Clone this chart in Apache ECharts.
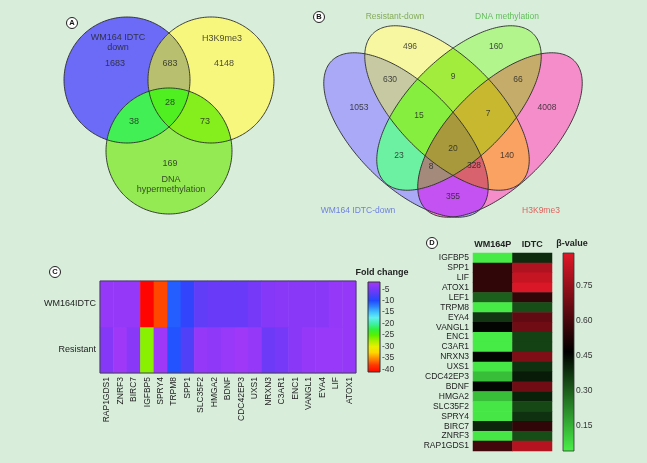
<!DOCTYPE html>
<html><head><meta charset="utf-8">
<script src="https://cdn.jsdelivr.net/npm/echarts@6/dist/echarts.min.js"></script>
<style>html,body{margin:0;padding:0;background:#d8eedb}#c{width:647px;height:463px}</style>
</head><body><div id="c"></div>
<script>
// ---------------- DATA ----------------
// Panel A: 3-set Venn (A = WM164 IDTC down, B = H3K9me3, C = DNA hypermethylation)
const vennASetNames = ['WM164 IDTC\ndown', 'H3K9me3', 'DNA\nhypermethylation'];
const vennARegionKeys = ['A', 'B', 'C', 'AB', 'AC', 'BC', 'ABC'];
const vennACounts = [1683, 4148, 169, 683, 38, 73, 28];

// Panel B: 4-set Venn (A = WM164 IDTC-down, B = Resistant-down, C = DNA methylation, D = H3K9me3)
const vennBSetNames = ['WM164 IDTC-down', 'Resistant-down', 'DNA methylation', 'H3K9me3'];
const vennBRegionKeys = ['A', 'B', 'C', 'D', 'AB', 'AC', 'AD', 'BC', 'BD', 'CD', 'ABC', 'ABD', 'ACD', 'BCD', 'ABCD'];
const vennBCounts = [1053, 496, 160, 4008, 630, 23, 355, 9, 140, 66, 15, 328, 8, 7, 20];

// Panel C: fold change heatmap
const genesC = ['RAP1GDS1', 'ZNRF3', 'BIRC7', 'IGFBP5', 'SPRY4', 'TRPM8', 'SPP1', 'SLC35F2', 'HMGA2', 'BDNF',
  'CDC42EP3', 'UXS1', 'NRXN3', 'C3AR1', 'ENC1', 'VANGL1', 'EYA4', 'LIF', 'ATOX1'];
const rowsC = ['Resistant', 'WM164IDTC'];
const foldWM164IDTC = [-3.2, -3.2, -3.2, -41, -37.5, -11, -9, -6.5, -6, -6, -6, -5.2, -4.3, -4, -4, -4, -4, -3.2, -3.2];
const foldResistant = [-4.3, -2.5, -4, -26.5, -2.5, -10.5, -7.5, -3.2, -3.6, -3, -2.5, -3.2, -5.8, -5.2, -4, -3.2, -3, -3, -3.2];
const foldTicks = [-5, -10, -15, -20, -25, -30, -35, -40];
const foldRange = [-41.2, -1.8];
const foldTitle = 'Fold change';

// Panel D: beta-value heatmap (top to bottom)
const genesD = ['IGFBP5', 'SPP1', 'LIF', 'ATOX1', 'LEF1', 'TRPM8', 'EYA4', 'VANGL1', 'ENC1', 'C3AR1', 'NRXN3',
  'UXS1', 'CDC42EP3', 'BDNF', 'HMGA2', 'SLC35F2', 'SPRY4', 'BIRC7', 'ZNRF3', 'RAP1GDS1'];
const samplesD = ['WM164P', 'IDTC'];
const betaWM164P = [0.05, 0.56, 0.56, 0.56, 0.30, 0.05, 0.37, 0.46, 0.05, 0.05, 0.46, 0.06, 0.13, 0.46, 0.13, 0.06, 0.06, 0.40, 0.06, 0.59];
const betaIDTC = [0.39, 0.80, 0.84, 0.88, 0.56, 0.33, 0.65, 0.68, 0.35, 0.35, 0.71, 0.38, 0.42, 0.68, 0.41, 0.34, 0.38, 0.56, 0.33, 0.81];
const betaTicks = [0.15, 0.30, 0.45, 0.60, 0.75];
const betaRange = [0.041, 0.892];
const betaTitle = 'β-value';

// ---------------- LAYOUT / STYLE ----------------
const FONT = 'Liberation Sans';
const vennAShapes = [[127, 80, 63, 63, 0], [211, 80, 63, 63, 0], [169, 151, 63, 63, 0]];
const vennALabelPos = { A: [115, 64], B: [224, 64], C: [170, 164], AB: [170, 64], AC: [134, 122], BC: [205, 122], ABC: [170, 103] };
const vennASetLabelPos = [[118, 43], [222, 39], [171, 185]];
const vennAColors = { A: '#6b6bf7', B: '#f7f77e', C: '#93ea52', AB: '#b8c070', AC: '#42ef54', BC: '#84ef1c', ABC: '#50ef22' };

const vennBShapes = [[406, 135, 105, 50, 45], [447, 108, 105, 50, 45], [459, 108, 105, 50, -45], [500, 135, 105, 50, -45]];
const vennBLabelPos = { A: [359, 108], B: [410, 47], C: [496, 47], D: [547, 108], AB: [390, 80], AC: [399, 156], AD: [453, 197],
  BC: [453, 77], BD: [507, 156], CD: [518, 80], ABC: [419, 116], ABD: [474, 166], ACD: [431, 167], BCD: [488, 114], ABCD: [453, 149] };
const vennBSetLabelPos = [[358, 211], [395, 17], [507, 17], [541, 211]];
const vennBSetLabelColors = ['#5565e0', '#6f9a35', '#45b03a', '#e23c3c'];
const vennBColors = { A: '#a9a9f7', B: '#f7f7a2', C: '#b2f58c', D: '#f68dcb', AB: '#c6c9a2', AC: '#6cf0a2', AD: '#c452f2',
  BC: '#a2ec3e', BD: '#f9a262', CD: '#c6ac6a', ABC: '#86ee3e', ABD: '#d8626e', ACD: '#a48a7a', BCD: '#c8b830', ABCD: '#a89a3c' };

const foldStops = [[-41.2, '#ff0000'], [-38, '#ff3800'], [-35, '#ff9000'], [-32.5, '#ffd800'], [-30, '#e8f000'],
  [-27.5, '#a8f000'], [-25, '#58f000'], [-22.5, '#30f040'], [-20, '#40f0a8'], [-17.5, '#60f0f0'], [-15, '#40c0ff'],
  [-12.5, '#2c80ff'], [-10, '#2048ff'], [-7.5, '#5040f8'], [-5, '#7a38f8'], [-1.8, '#aa38f8']];
const betaStops = [[0.041, '#48f048'], [0.4665, '#000000'], [0.892, '#e01828']];

// ---------------- HELPERS ----------------
function hexToRgb(h) { return [parseInt(h.slice(1, 3), 16), parseInt(h.slice(3, 5), 16), parseInt(h.slice(5, 7), 16)]; }
function interpColor(stops, v) {
  if (v <= stops[0][0]) return stops[0][1];
  for (let i = 1; i < stops.length; i++) {
    if (v <= stops[i][0]) {
      const t = (v - stops[i - 1][0]) / (stops[i][0] - stops[i - 1][0]);
      const a = hexToRgb(stops[i - 1][1]), b = hexToRgb(stops[i][1]);
      return 'rgb(' + a.map((x, k) => Math.round(x + (b[k] - x) * t)).join(',') + ')';
    }
  }
  return stops[stops.length - 1][1];
}
function samplePalette(stops, min, max, n) {
  const out = [];
  for (let i = 0; i < n; i++) out.push(interpColor(stops, min + (max - min) * i / (n - 1)));
  return out;
}
function gradientFor(stops, min, max) {
  return { type: 'linear', x: 0, y: 0, x2: 0, y2: 1,
    colorStops: stops.map(s => ({ offset: (max - s[0]) / (max - min), color: s[1] })).sort((a, b) => a.offset - b.offset) };
}
function ellipsePoly(s, n) {
  const [cx, cy, a, b, ang] = s, t = ang * Math.PI / 180, pts = [];
  for (let i = 0; i < n; i++) {
    const u = 2 * Math.PI * i / n, x = a * Math.cos(u), y = b * Math.sin(u);
    pts.push([cx + x * Math.cos(t) - y * Math.sin(t), cy + x * Math.sin(t) + y * Math.cos(t)]);
  }
  return pts;
}
function signedArea(p) { let s = 0; for (let i = 0; i < p.length; i++) { const a = p[i], b = p[(i + 1) % p.length]; s += a[0] * b[1] - b[0] * a[1]; } return s / 2; }
function clipPoly(subject, clip) {
  const sgn = signedArea(clip) > 0 ? 1 : -1;
  let out = subject;
  for (let i = 0; i < clip.length; i++) {
    const A = clip[i], B = clip[(i + 1) % clip.length];
    const ex = B[0] - A[0], ey = B[1] - A[1];
    const inside = p => sgn * (ex * (p[1] - A[1]) - ey * (p[0] - A[0])) >= 0;
    const inter = (P, Q) => {
      const dx = Q[0] - P[0], dy = Q[1] - P[1];
      const t = ((A[0] - P[0]) * ey - (A[1] - P[1]) * ex) / (dx * ey - dy * ex);
      return [P[0] + t * dx, P[1] + t * dy];
    };
    const inp = out; out = [];
    if (!inp.length) break;
    for (let j = 0; j < inp.length; j++) {
      const E = inp[j], S = inp[(j + inp.length - 1) % inp.length];
      const ei = inside(E), si = inside(S);
      if (ei) { if (!si) out.push(inter(S, E)); out.push(E); }
      else if (si) out.push(inter(S, E));
    }
  }
  return out;
}
function regionPolys(shapes, keys, colors) {
  const polys = shapes.map(s => ellipsePoly(s, 240));
  return keys.map(k => {
    const idx = k.split('').map(ch => ch.charCodeAt(0) - 65);
    let p = polys[idx[0]];
    for (let i = 1; i < idx.length; i++) p = clipPoly(p, polys[idx[i]]);
    return { key: k, pts: p, color: colors[k] };
  });
}

const regionsA = regionPolys(vennAShapes, vennARegionKeys, vennAColors);
const regionsB = regionPolys(vennBShapes, vennBRegionKeys, vennBColors);
const outlinesA = vennAShapes.map(s => ellipsePoly(s, 240));
const outlinesB = vennBShapes.map(s => ellipsePoly(s, 240));

function fillSeries(regions) {
  return {
    type: 'custom', xAxisIndex: 0, yAxisIndex: 0, silent: true, z: 1,
    data: regions.map(r => ({ name: r.key, value: [0, 0] })),
    renderItem: (params, api) => {
      const r = regions[params.dataIndex];
      return { type: 'polygon', z2: params.dataIndex, shape: { points: r.pts.map(p => api.coord(p)) }, style: { fill: r.color, stroke: null } };
    }
  };
}
function outlineSeries(outlines) {
  return {
    type: 'custom', xAxisIndex: 0, yAxisIndex: 0, silent: true, z: 2,
    data: outlines.map((o, i) => ({ value: [0, i] })),
    renderItem: (params, api) => ({
      type: 'polygon', shape: { points: outlines[params.dataIndex].map(p => api.coord(p)) },
      style: { fill: 'none', stroke: '#2a2a2a', lineWidth: 0.9 }
    })
  };
}

const countLabelData = [];
vennARegionKeys.forEach((k, i) => countLabelData.push({ value: [vennALabelPos[k][0], vennALabelPos[k][1], vennACounts[i]], label: { fontSize: 9 } }));
vennBRegionKeys.forEach((k, i) => countLabelData.push({ value: [vennBLabelPos[k][0], vennBLabelPos[k][1], vennBCounts[i]], label: { fontSize: 8.5 } }));
const setLabelData = [];
vennASetNames.forEach((n, i) => setLabelData.push({ name: n, value: vennASetLabelPos[i], label: { color: '#222', fontSize: 9, lineHeight: 10 } }));
vennBSetNames.forEach((n, i) => setLabelData.push({ name: n, value: vennBSetLabelPos[i], label: { color: vennBSetLabelColors[i], fontSize: 8.5 } }));

const heatC = [];
genesC.forEach((g, i) => { heatC.push([i, 0, foldResistant[i]]); heatC.push([i, 1, foldWM164IDTC[i]]); });
const heatD = [];
genesD.forEach((g, i) => { heatD.push([0, i, betaWM164P[i]]); heatD.push([1, i, betaIDTC[i]]); });

function letter(ch, x, y) {
  return [
    { type: 'circle', shape: { cx: x, cy: y, r: 5.5 }, style: { fill: '#ffffff', stroke: '#222', lineWidth: 1 }, z: 20 },
    { type: 'text', x: x, y: y, style: { text: ch, textAlign: 'center', textVerticalAlign: 'middle', font: 'bold 7.5px ' + FONT, fill: '#111' }, z: 21 }
  ];
}
function title(txt, x, y) {
  return { type: 'text', x: x, y: y, z: 21,
    style: { text: txt, textAlign: 'center', textVerticalAlign: 'middle', font: 'bold 9px ' + FONT, fill: '#222' } };
}

const hidden = { show: false };
const option = {
  backgroundColor: '#d8eedb',
  animation: false,
  textStyle: { fontFamily: FONT },
  grid: [
    { left: 0, top: 0, width: 647, height: 463 },
    { left: 100, top: 281, width: 256, height: 92, show: true, borderColor: '#45405a', borderWidth: 1, backgroundColor: 'transparent', z: 10 },
    { left: 368, top: 282, width: 12, height: 90 },
    { left: 473, top: 253, width: 79, height: 198 },
    { left: 563, top: 253, width: 11, height: 198 }
  ],
  xAxis: [
    { type: 'value', gridIndex: 0, min: 0, max: 647, show: false },
    { type: 'category', gridIndex: 1, data: genesC, axisLine: hidden, axisTick: hidden,
      axisLabel: { rotate: 90, interval: 0, fontSize: 8.5, color: '#222', margin: 4 } },
    { type: 'value', gridIndex: 2, min: 0, max: 1, show: false },
    { type: 'category', gridIndex: 3, data: samplesD, position: 'top', axisLine: hidden, axisTick: hidden,
      axisLabel: { interval: 0, hideOverlap: false, fontSize: 9, fontWeight: 'bold', color: '#222', margin: 4 } },
    { type: 'value', gridIndex: 4, min: 0, max: 1, show: false }
  ],
  yAxis: [
    { type: 'value', gridIndex: 0, min: 0, max: 463, inverse: true, show: false },
    { type: 'category', gridIndex: 1, data: rowsC, axisLine: hidden, axisTick: hidden,
      axisLabel: { fontSize: 9, color: '#222', margin: 4 } },
    { type: 'value', gridIndex: 2, min: foldRange[0], max: foldRange[1], position: 'right', splitLine: hidden,
      axisLine: hidden, axisTick: { show: true, length: 3, lineStyle: { color: '#333' }, customValues: foldTicks },
      axisLabel: { fontSize: 8.5, color: '#333', margin: 2, customValues: foldTicks, formatter: v => String(v) } },
    { type: 'category', gridIndex: 3, data: genesD, inverse: true, axisLine: hidden, axisTick: hidden,
      axisLabel: { fontSize: 8.5, color: '#222', margin: 4, interval: 0 } },
    { type: 'value', gridIndex: 4, min: betaRange[0], max: betaRange[1], position: 'right', splitLine: hidden,
      axisLine: hidden, axisTick: { show: true, length: 3, lineStyle: { color: '#333' }, customValues: betaTicks },
      axisLabel: { fontSize: 8.5, color: '#333', margin: 2, customValues: betaTicks, formatter: v => v.toFixed(2) } }
  ],
  visualMap: [
    { type: 'continuous', show: false, seriesIndex: 6, dimension: 2, min: foldRange[0], max: foldRange[1],
      inRange: { color: samplePalette(foldStops, foldRange[0], foldRange[1], 80) } },
    { type: 'continuous', show: false, seriesIndex: 8, dimension: 2, min: betaRange[0], max: betaRange[1],
      inRange: { color: samplePalette(betaStops, betaRange[0], betaRange[1], 40) } }
  ],
  series: [
    fillSeries(regionsA),
    outlineSeries(outlinesA),
    fillSeries(regionsB),
    outlineSeries(outlinesB),
    { type: 'scatter', xAxisIndex: 0, yAxisIndex: 0, silent: true, z: 5, symbolSize: 1,
      itemStyle: { color: 'rgba(0,0,0,0)' }, data: countLabelData,
      label: { show: true, position: 'inside', color: '#222', formatter: p => String(p.value[2]) } },
    { type: 'scatter', xAxisIndex: 0, yAxisIndex: 0, silent: true, z: 5, symbolSize: 1,
      itemStyle: { color: 'rgba(0,0,0,0)' }, data: setLabelData,
      label: { show: true, position: 'inside', align: 'center', formatter: p => p.name } },
    { type: 'heatmap', xAxisIndex: 1, yAxisIndex: 1, data: heatC, silent: true, itemStyle: { borderWidth: 0 } },
    { type: 'custom', xAxisIndex: 2, yAxisIndex: 2, silent: true, data: [[0, foldRange[0]]],
      renderItem: (params, api) => {
        const p0 = api.coord([0, foldRange[1]]), p1 = api.coord([1, foldRange[0]]);
        return { type: 'rect', shape: { x: p0[0], y: p0[1], width: p1[0] - p0[0], height: p1[1] - p0[1] },
          style: { fill: gradientFor(foldStops, foldRange[0], foldRange[1]), stroke: '#333', lineWidth: 1 } };
      } },
    { type: 'heatmap', xAxisIndex: 3, yAxisIndex: 3, data: heatD, silent: true, itemStyle: { borderWidth: 0 } },
    { type: 'custom', xAxisIndex: 4, yAxisIndex: 4, silent: true, data: [[0, betaRange[0]]],
      renderItem: (params, api) => {
        const p0 = api.coord([0, betaRange[1]]), p1 = api.coord([1, betaRange[0]]);
        return { type: 'rect', shape: { x: p0[0], y: p0[1], width: p1[0] - p0[0], height: p1[1] - p0[1] },
          style: { fill: gradientFor(betaStops, betaRange[0], betaRange[1]), stroke: '#333', lineWidth: 0.8 } };
      } }
  ],
  graphic: [].concat(letter('A', 72, 23), letter('B', 319, 17), letter('C', 55, 272), letter('D', 432, 243),
    [title(foldTitle, 382, 273), title(betaTitle, 572, 244)])
};
const chart = echarts.init(document.getElementById('c'), null, { renderer: 'canvas' });
chart.setOption(option);
</script>
</body></html>
